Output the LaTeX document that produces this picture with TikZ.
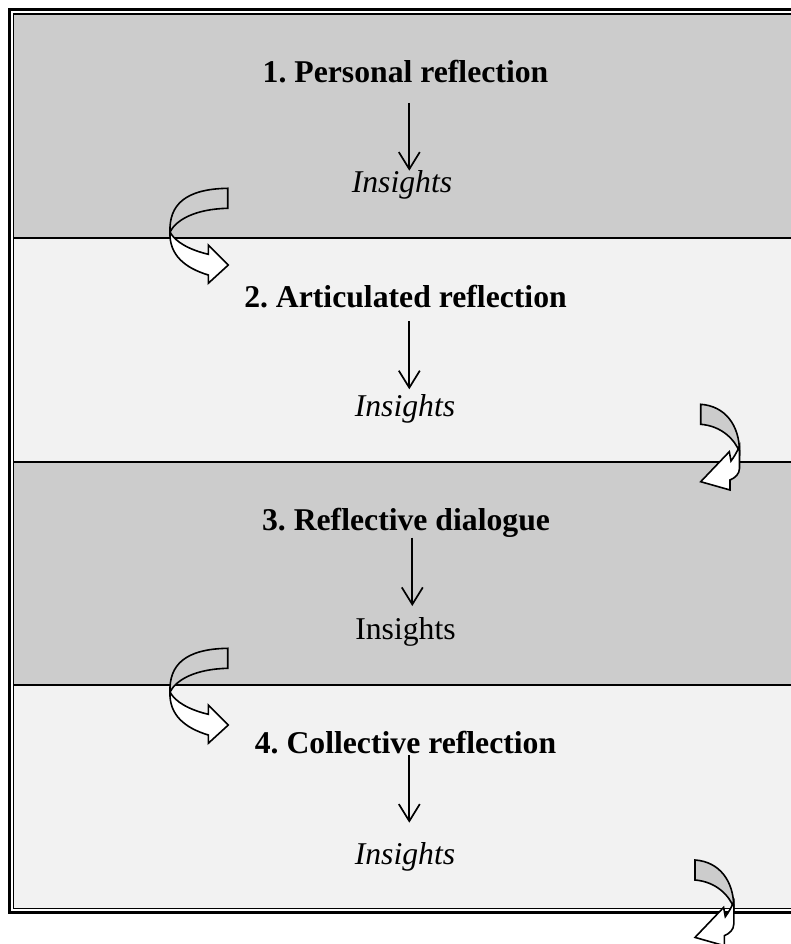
\documentclass[tikz,border=0pt]{standalone}
\usepackage{fontspec}
\setmainfont{Liberation Serif}
\usetikzlibrary{arrows.meta}
\definecolor{B1}{RGB}{204,204,204}
\definecolor{B2}{RGB}{242,242,242}
\frenchspacing
\tikzset{
    stage/.style={font=\fontsize{31.7}{38}\selectfont\bfseries, inner sep=0pt, anchor=base},
    result/.style={font=\fontsize{31.7}{38}\selectfont\itshape, inner sep=0pt, anchor=base},
    plainresult/.style={font=\fontsize{31.7}{38}\selectfont, inner sep=0pt, anchor=base},
    flow/.style={line width=1.7pt, -{Straight Barb[length=17pt,width=21pt]}},
    ribbon/.style={draw=black, line width=1.6pt},
    turnleft/.pic={
        \draw[ribbon, fill=B1] (227.7,188.3) -- (227.7,208.3)
            .. controls (195,209) and (176,220) .. (170,232)
            .. controls (169,205) and (185,189) .. (227.7,188.3) -- cycle;
        \draw[ribbon, fill=white] (170,232)
            .. controls (169,255) and (185,268) .. (208.3,275)
            -- (208.3,283.3) -- (228.3,265) -- (208.3,245) -- (208.3,254.3)
            .. controls (190,250) and (175,242) .. (170,232) -- cycle;
    },
    turnright/.pic={
        \draw[ribbon, fill=B1] (700.7,404.3)
            .. controls (725,406) and (739.5,425) .. (739.5,452)
            .. controls (735,440) and (722,426) .. (700.7,424.3) -- cycle;
        \draw[ribbon, fill=white] (739.5,446) -- (739.5,468.3)
            .. controls (739.5,474) and (735,478) .. (730,480)
            -- (730,490) -- (700.7,481.7) -- (729.3,451.7) -- (731,461)
            .. controls (734,457) and (737,452) .. (739.5,446) -- cycle;
    }
}

\begin{document}
\begin{tikzpicture}[x=1pt, y=-1pt]
    \useasboundingbox (0,0) rectangle (791,944);
    \fill[B1] (14,14.5) rectangle (815,238);
    \fill[B2] (14,238) rectangle (815,462);
    \fill[B1] (14,462) rectangle (815,685);
    \fill[B2] (14,685) rectangle (815,908);
    \draw[line width=1.3pt] (14,238) -- (815,238);
    \draw[line width=1.3pt] (14,462) -- (815,462);
    \draw[line width=1.3pt] (14,685) -- (815,685);
    \draw[line width=3pt] (9.5,10) rectangle (820,912.5);
    \draw[line width=1.5pt] (13.3,13.8) rectangle (815,908.5);

    \node[stage] (t1) at (405.5,83) {1. Personal reflection};
    \node[result] (i1) at (402,193) {Insights};
    \draw[flow] (t1.base) ++(3.8,20) -- ++(0,67.7);

    \node[stage] (t2) at (405.5,307) {2. Articulated reflection};
    \node[result] (i2) at (405,416.7) {Insights};
    \draw[flow] (t2.base) ++(3.8,14) -- ++(0,68.3);

    \node[stage] (t3) at (406,530) {3. Reflective dialogue};
    \node[plainresult] (i3) at (405.5,639.3) {Insights};
    \draw[flow] (t3.base) ++(6.3,7.7) -- ++(0,68.3);

    \node[stage] (t4) at (405.5,753) {4. Collective reflection};
    \node[result] (i4) at (405,864) {Insights};
    \draw[flow] (t4.base) ++(3.8,2) -- ++(0,67.7);

    \pic at (0,0) {turnleft};
    \pic at (0,460) {turnleft};
    \pic at (0,0) {turnright};
    \pic at (-5.7,455.7) {turnright};
\end{tikzpicture}
\end{document}
